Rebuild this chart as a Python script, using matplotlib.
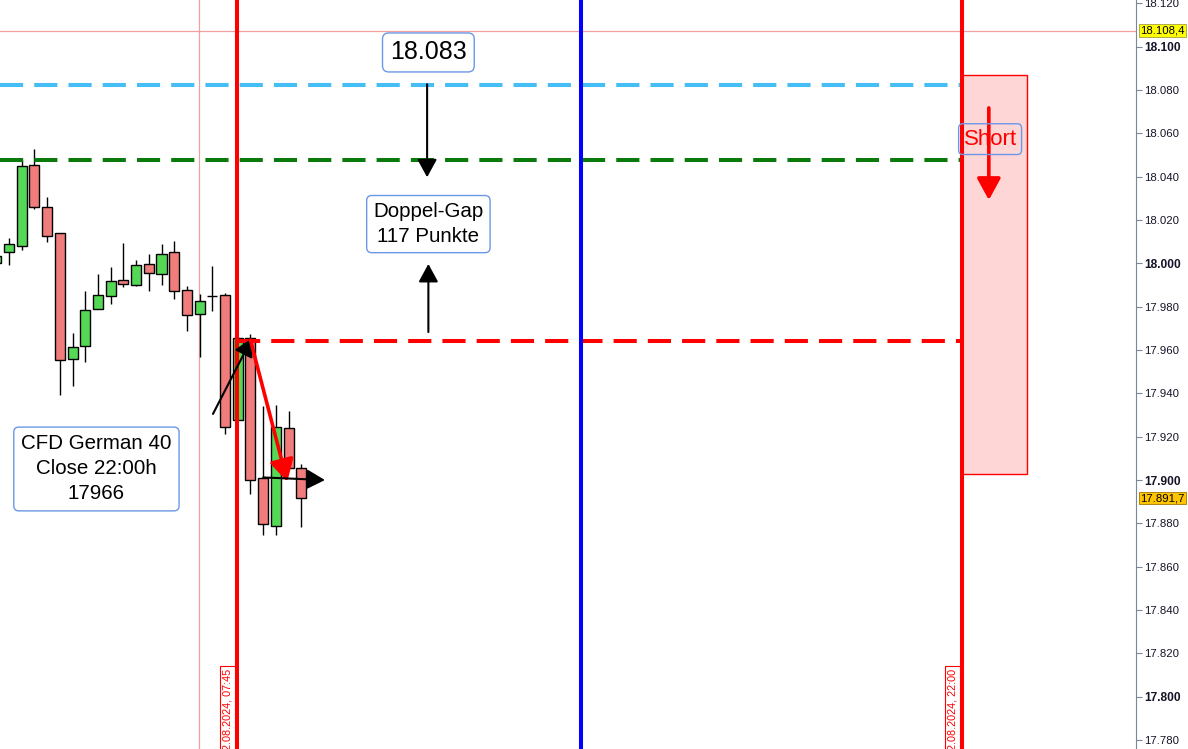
import matplotlib
matplotlib.use("Agg")
import matplotlib.pyplot as plt
from matplotlib.patches import Rectangle
import matplotlib.transforms as mtransforms

plt.rcParams['font.family'] = ['Liberation Sans', 'DejaVu Sans']

# 15-Minuten-Kerzen (Index = Bar-Nummer)
bar_idx = list(range(-1, 24))
opens = [18000.0, 18005.4, 18008.2, 18045.2, 18026.2, 18013.8, 17955.9, 17961.9, 17979.0,
         17985.0, 17992.5, 17990.1, 17999.9, 17995.2, 18005.0, 17987.8, 17976.7, 17984.7,
         17985.2, 17927.6, 17965.6, 17900.8, 17879.0, 17924.1, 17905.4]
highs = [18006.0, 18011.6, 18047.7, 18052.6, 18030.4, 18013.8, 17967.9, 17987.0, 17994.9,
         17998.3, 18009.3, 18001.4, 18004.2, 18008.8, 18010.3, 17989.7, 17986.0, 17998.6,
         17986.3, 17966.0, 17967.5, 17934.3, 17934.7, 17931.9, 17907.5]
lows = [17997.0, 17999.4, 18006.0, 18025.0, 18009.9, 17939.4, 17943.2, 17954.3, 17979.0,
        17981.2, 17989.0, 17989.5, 17987.2, 17990.0, 17983.5, 17968.7, 17956.6, 17977.9,
        17921.4, 17927.6, 17893.7, 17874.5, 17874.5, 17905.4, 17878.2]
closes = [18003.5, 18008.7, 18044.8, 18025.8, 18012.4, 17955.4, 17961.4, 17978.6, 17985.5,
          17992.0, 17990.6, 17999.4, 17995.7, 18004.5, 17987.4, 17976.3, 17982.7, 17984.7,
          17924.5, 17965.6, 17900.1, 17879.5, 17924.5, 17905.4, 17891.7]

# Achse
y_ticks = list(range(17780, 18121, 20))

# Marken
bar_0745 = 17.95
bar_1430 = 45.0
bar_2200 = 75.0
bar_session = 14.97
gap_top = 18082.5      # 18.083
gap_mid = 18047.7
close_prev = 17964.0   # Close 22:00h
ask_price = 18107.3
last_price = 17891.7
short_box = (75.0, 80.1, 17902.8, 18086.9)  # x0, x1, unten, oben

fig = plt.figure(figsize=(11.88, 7.49), dpi=100)
ax = fig.add_axes([0, 0, 1136 / 1188, 1])
ax.set_xlim(-0.708, 88.68)
ax.set_ylim(17775.9, 18121.5)

for s in ['left', 'top', 'bottom']:
    ax.spines[s].set_visible(False)
ax.spines['right'].set_color('#7a8794')
ax.xaxis.set_visible(False)
ax.yaxis.tick_right()
ax.set_yticks(y_ticks)
ax.set_yticklabels([f"{v / 1000:.3f}" for v in y_ticks])
ax.tick_params(axis='y', direction='out', length=4, width=0.8, colors='#7a8794',
               labelcolor='#141428', labelsize=8.2, pad=2)
for v, lab in zip(y_ticks, ax.get_yticklabels()):
    if v % 100 == 0:
        lab.set_fontweight('bold')
        lab.set_fontsize(8.6)

# Hilfslinien
ax.axhline(ask_price, color='#f0a0a0', lw=0.9, zorder=1)
ax.axvline(bar_session, color='#f0a0a0', lw=0.9, zorder=1)

# Kerzen
body_w = 0.79
for i, o, h, l, c in zip(bar_idx, opens, highs, lows, closes):
    col = '#55d855' if c > o else '#f07c7c'
    ax.vlines(i, l, h, color='black', lw=1, zorder=2)
    ax.bar(i, abs(c - o), bottom=min(o, c), width=body_w, color=col,
           edgecolor='black', linewidth=1, zorder=3)

# Gap-Linien
dash = (5.75, 2.75)
ax.plot([-0.708, bar_2200], [gap_top, gap_top], color='#45bdf5', lw=2.9, dashes=dash, zorder=4)
ax.plot([-0.708, bar_2200], [gap_mid, gap_mid], color='#0a7a0a', lw=2.9, dashes=dash, zorder=4)
ax.plot([bar_0745, bar_2200], [close_prev, close_prev], color='#ff0000', lw=2.9, dashes=dash, zorder=4)

# Short-Box
x0, x1, y0, y1 = short_box
ax.add_patch(Rectangle((x0, y0), x1 - x0, y1 - y0, facecolor='#ffd6d6',
                       edgecolor='#ff0000', lw=1, zorder=1))

# Vertikale Zeitlinien
ax.axvline(bar_0745, color='#ff0000', lw=2.9, zorder=5)
ax.axvline(bar_1430, color='#0000ff', lw=2.9, zorder=5)
ax.axvline(bar_2200, color='#ff0000', lw=2.9, zorder=5)

# Pfeile
def arrow(x_from, y_from, x_to, y_to, color='black', lw=1.5, scale=20):
    ax.annotate('', xy=(x_to, y_to), xytext=(x_from, y_from),
                arrowprops=dict(arrowstyle='-|>,head_length=0.55,head_width=0.3',
                                color=color, lw=lw, mutation_scale=scale,
                                shrinkA=0, shrinkB=0), zorder=6)

arrow(16.05, 17930.5, 19.12, 17965.5)
arrow(19.0, 17964.6, 21.9, 17899.2, color='#ff0000', lw=2.6, scale=24)
arrow(20.0, 17901.2, 24.86, 17900.0)
arrow(32.9, 18082.6, 32.9, 18039.7)
arrow(33.0, 17968.3, 33.0, 17999.7)
arrow(77.1, 18071.7, 77.1, 18029.2, color='#ff0000', lw=2.6, scale=24)

# Textboxen
def box(x, y, txt, size, pad, color='black'):
    ax.text(x, y, txt, fontsize=size, color=color, ha='center', va='center',
            linespacing=1.4, zorder=7,
            bbox=dict(boxstyle=f'round,pad={pad},rounding_size=0.25', fc='white',
                      ec='#6a98e8', lw=1))

box(33.0, 18097.3, '18.083', 18, 0.3)
box(33.0, 18018.1, 'Doppel-Gap\n117 Punkte', 14.8, 0.32)
box(6.88, 17905.1, 'CFD German 40\nClose 22:00h\n17966', 14.8, 0.36)
ax.text(77.2, 18057.3, 'Short', fontsize=16, color='#ff0000', ha='center', va='center',
        zorder=7, bbox=dict(boxstyle='round,pad=0.22,rounding_size=0.2', fc='none',
                            ec='#6a98e8', lw=1))

# Datums-Labels an den Zeitlinien (unten abgeschnitten wie im Original)
for xb, lbl in [(bar_0745, '02.08.2024, 07:45'), (bar_2200, '02.08.2024, 22:00')]:
    ax.annotate(lbl, xy=(xb, 1 - 669 / 749), xycoords=('data', 'axes fraction'),
                xytext=(-3.5, 0), textcoords='offset points', rotation=90,
                ha='right', va='top', fontsize=7.8, color='#ff0000', zorder=8,
                bbox=dict(boxstyle='square,pad=0.25', fc='white', ec='#ff0000', lw=0.8))

# Preis-Marken rechts
tr = mtransforms.blended_transform_factory(ax.transAxes, ax.transData)
ax.text(1.0035, ask_price, '18.108,4', transform=tr, fontsize=8.2, ha='left', va='center',
        clip_on=False, bbox=dict(boxstyle='square,pad=0.12', fc='#ffff00', ec='#a0a040', lw=0.6))
ax.text(1.0035, last_price, '17.891,7', transform=tr, fontsize=8.2, ha='left', va='center',
        clip_on=False, bbox=dict(boxstyle='square,pad=0.12', fc='#ffc400', ec='#a07800', lw=0.6))

fig.savefig('out.png', dpi=100)
